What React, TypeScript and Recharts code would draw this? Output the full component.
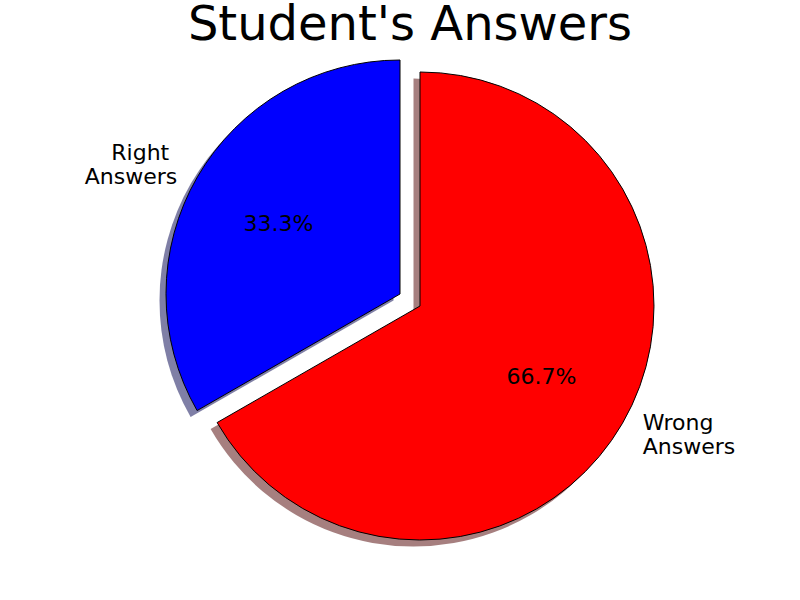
import { Cell, Pie, PieChart } from "recharts";

const categories = ["Right\nAnswers", "Wrong\nAnswers"];
const shares = [33.3, 66.7];
const sliceColors = ["#0000ff", "#ff0000"];
const shadowColors = ["rgba(0,0,77,0.5)", "rgba(77,0,0,0.5)"];

const rows = categories.map((name, i) => ({ name, value: shares[i] }));

const FONT = "'DejaVu Sans', sans-serif";
const R = 234;
const CX = 420;
const CY = 306;
// exploded slice (index 0) is pushed out along its mid angle
const EX = 400;
const EY = 294;
const SHADOW = 6.5;

function makeLabel(only: number, firstLineShift: number) {
  return (p: any) => {
    if (p.index !== only) return null;
    const rad = (-p.midAngle * Math.PI) / 180;
    const lx = p.cx + Math.cos(rad) * p.outerRadius * 1.1;
    const ly = p.cy + Math.sin(rad) * p.outerRadius * 1.1;
    const px = p.cx + Math.cos(rad) * p.outerRadius * 0.6;
    const py = p.cy + Math.sin(rad) * p.outerRadius * 0.6;
    const anchor = Math.cos(rad) < 0 ? "end" : "start";
    const lines = String(p.name).split("\n");
    return (
      <g>
        <text x={lx} y={ly} textAnchor={anchor} fontFamily={FONT} fontSize={22} fill="#000">
          {lines.map((t, k) => (
            <tspan key={k} x={lx + (k === 0 ? firstLineShift : 0)} y={ly - 5 + k * 24}>
              {t}
            </tspan>
          ))}
        </text>
        <text x={px} y={py + 7.5} textAnchor="middle" fontFamily={FONT} fontSize={22} fill="#000">
          {(p.percent * 100).toFixed(1)}%
        </text>
      </g>
    );
  };
}

function slicePie(key: string, cx: number, cy: number, show: number, shadow: boolean, label?: any) {
  return (
    <Pie
      key={key}
      data={rows}
      dataKey="value"
      nameKey="name"
      cx={cx}
      cy={cy}
      outerRadius={R}
      startAngle={90}
      endAngle={450}
      isAnimationActive={false}
      label={label ?? false}
      labelLine={false}
    >
      {rows.map((_, i) => (
        <Cell
          key={i}
          fill={i === show ? (shadow ? shadowColors[i] : sliceColors[i]) : "none"}
          stroke={i === show && !shadow ? "#000" : "none"}
          strokeWidth={1}
        />
      ))}
    </Pie>
  );
}

export default function App() {
  return (
    <div style={{ position: "absolute", left: 0, top: 0, width: 800, height: 600, background: "#fff" }}>
      <PieChart
        width={800}
        height={600}
        margin={{ top: 0, right: 0, bottom: 0, left: 0 }}
        style={{ position: "absolute", left: 0, top: 0 }}
      >
        {slicePie("sh1", CX - SHADOW, CY + SHADOW, 1, true)}
        {slicePie("sh0", EX - SHADOW, EY + SHADOW, 0, true)}
        {slicePie("p1", CX, CY, 1, false, makeLabel(1, 0))}
        {slicePie("p0", EX, EY, 0, false, makeLabel(0, -8))}
      </PieChart>
      <svg width={800} height={60} style={{ position: "absolute", left: 0, top: 0 }}>
        <text x={410} y={40} textAnchor="middle" fontFamily={FONT} fontSize={48} fill="#000">
          Student's Answers
        </text>
      </svg>
    </div>
  );
}
